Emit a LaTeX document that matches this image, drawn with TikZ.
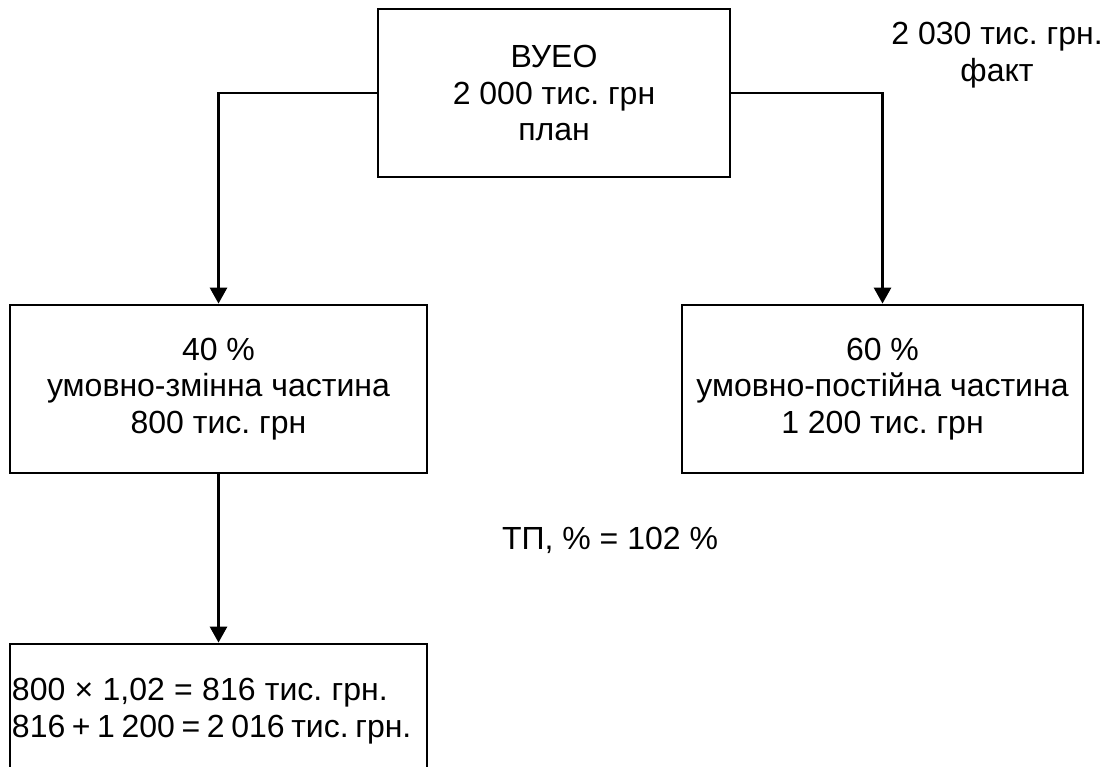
\documentclass[tikz,border=0pt]{standalone}
\usepackage{fontspec}
\setmainfont{Liberation Sans}
\usetikzlibrary{arrows.meta, math}
\frenchspacing

\tikzset{
  blok/.style={draw, line width=2.8pt, align=center, inner sep=0pt, minimum height=168pt},
  strilka/.style={line width=2.8pt, -{Triangle[width=17pt,length=16pt]}},
  napys/.style={align=center, inner sep=0pt}
}

\begin{document}
\begin{tikzpicture}[x=1pt, y=-1pt, font=\fontsize{32}{36.5}\selectfont]
\tikzmath{
\H=168;
}

\clip (0,0) rectangle (1107,767);
\fill[white] (0,0) rectangle (1107,767);

\node[blok, minimum width=352pt] (vueo) at (554,93) {ВУЕО\\2 000 тис. грн\\план};
\node[blok, minimum width=417pt] (zmin) at (218.5,389) {40 \%\\умовно-змінна частина\\800 тис. грн};
\node[blok, minimum width=401pt] (post) at (882.5,389) {60 \%\\умовно-постійна частина\\1 200 тис. грн};
\node[draw, line width=2.8pt, minimum height=134pt, text width=413pt, inner xsep=2pt, inner ysep=0pt, align=left] (calc) at (218.5,711) {{\spaceskip=9.3pt 800 × 1,02 = 816 тис. грн.}\\{\spaceskip=6.6pt 816 + 1 200 = 2 016 тис. грн.}};

\node[napys] (tp) at (610,540) {ТП, \% = 102 \%};
\node[napys] (fakt) at (997,55) {2 030 тис. грн.\\факт};

\draw[strilka] (vueo.west) -| (zmin.north);
\draw[strilka] (vueo.east) -| (post.north);
\draw[strilka] (zmin.south) -- (calc.north);

\end{tikzpicture}
\end{document}
